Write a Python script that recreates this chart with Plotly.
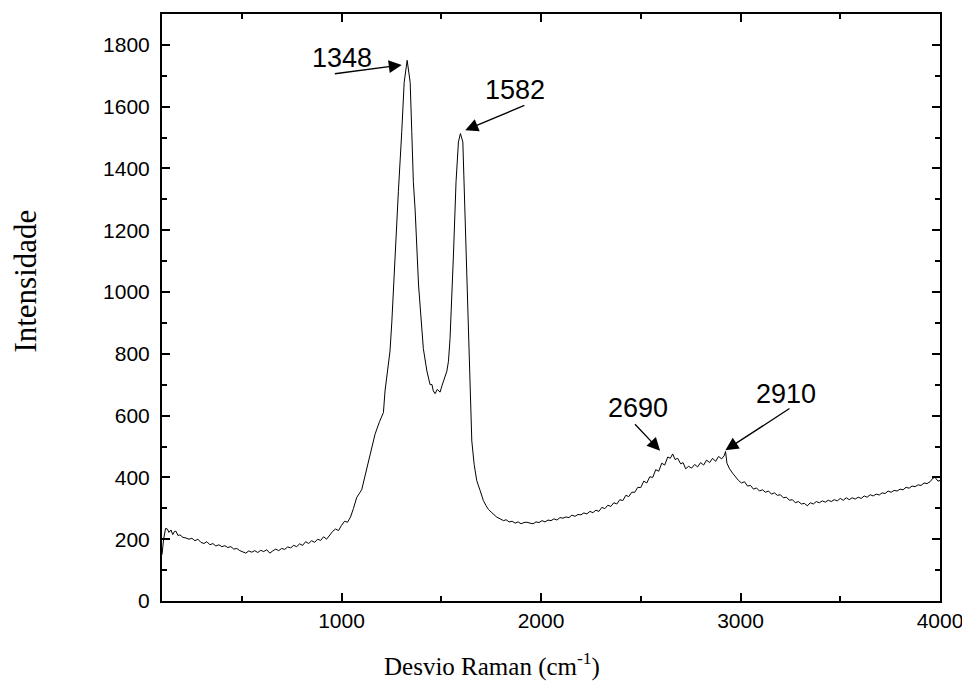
import plotly.graph_objects as go

# Raman spectrum
wavenumber = [100, 108, 118, 127, 135, 145, 154, 162, 170, 180, 190, 205, 220, 235, 250, 265, 280, 295, 310, 325,
              340, 355, 370, 385, 400, 415, 430, 445, 460, 475, 490, 505, 520, 535, 550, 565, 580, 595, 610, 625,
              640, 655, 670, 685, 700, 715, 730, 745, 760, 775, 790, 805, 820, 835, 850, 865, 880, 895, 910, 925,
              940, 955, 970, 985, 1000, 1015, 1030, 1045, 1060, 1076, 1101, 1118, 1143, 1168, 1190, 1210, 1218, 1230, 1243, 1252,
              1268, 1285, 1302, 1314, 1329, 1344, 1352, 1360, 1369, 1386, 1410, 1428, 1444, 1453, 1460, 1469, 1480, 1494, 1503, 1519,
              1528, 1536, 1544, 1561, 1574, 1586, 1596, 1608, 1614, 1628, 1644, 1653, 1665, 1678, 1695, 1711, 1725, 1737, 1750, 1765,
              1779, 1795, 1812, 1825, 1840, 1855, 1870, 1885, 1900, 1915, 1929, 1945, 1960, 1975, 1990, 2005, 2020, 2035, 2050, 2065,
              2080, 2095, 2110, 2125, 2140, 2155, 2170, 2185, 2200, 2215, 2230, 2245, 2260, 2275, 2290, 2305, 2320, 2335, 2350, 2365,
              2380, 2395, 2410, 2425, 2440, 2455, 2470, 2485, 2500, 2515, 2530, 2545, 2560, 2575, 2590, 2605, 2620, 2635, 2648, 2660,
              2672, 2685, 2700, 2712, 2725, 2740, 2755, 2770, 2785, 2800, 2815, 2830, 2845, 2860, 2875, 2890, 2905, 2918, 2925, 2932,
              2945, 2960, 2975, 2990, 3005, 3020, 3035, 3050, 3065, 3080, 3095, 3110, 3125, 3140, 3155, 3170, 3185, 3200, 3215, 3230,
              3245, 3260, 3275, 3290, 3305, 3320, 3335, 3350, 3365, 3380, 3395, 3410, 3425, 3440, 3455, 3470, 3485, 3500, 3515, 3530,
              3545, 3560, 3575, 3590, 3605, 3620, 3635, 3650, 3665, 3680, 3695, 3710, 3725, 3740, 3755, 3770, 3785, 3800, 3815, 3830,
              3845, 3860, 3875, 3890, 3905, 3920, 3935, 3950, 3965, 3975, 3990, 4000]
intensity = [150, 200, 235, 233, 222, 230, 215, 225, 226, 212, 214, 206, 204, 200, 203, 195, 200, 190, 186, 192,
             182, 186, 178, 182, 176, 179, 173, 176, 168, 170, 163, 160, 155, 162, 158, 163, 157, 164, 160, 166,
             155, 162, 168, 163, 170, 167, 175, 172, 180, 176, 185, 180, 192, 186, 195, 190, 200, 196, 208, 200,
             212, 225, 233, 228, 245, 258, 255, 272, 300, 335, 360, 405, 465, 540, 580, 610, 680, 744, 809, 902,
             1120, 1326, 1520, 1679, 1750, 1679, 1520, 1357, 1265, 1023, 817, 744, 700, 701, 680, 671, 685, 676, 696, 723,
             744, 776, 850, 1120, 1357, 1486, 1513, 1486, 1357, 1023, 659, 518, 441, 389, 357, 325, 308, 296, 288, 280,
             271, 266, 260, 263, 256, 258, 252, 256, 250, 254, 255, 252, 250, 256, 254, 260, 256, 262, 260, 266,
             262, 270, 268, 272, 270, 278, 274, 280, 279, 285, 282, 290, 286, 294, 290, 303, 299, 310, 306, 318,
             314, 328, 325, 342, 338, 352, 352, 368, 367, 388, 382, 402, 400, 425, 420, 446, 440, 466, 462, 476,
             458, 462, 444, 448, 428, 436, 430, 442, 434, 448, 440, 456, 448, 462, 452, 468, 460, 470, 484, 446,
             428, 414, 402, 390, 382, 386, 372, 374, 362, 366, 356, 360, 352, 356, 346, 350, 342, 344, 334, 336,
             326, 328, 318, 322, 314, 316, 308, 318, 314, 322, 318, 324, 320, 326, 322, 328, 324, 332, 326, 334,
             328, 334, 330, 336, 332, 340, 336, 344, 340, 346, 343, 350, 348, 356, 352, 358, 356, 362, 360, 368,
             365, 372, 370, 376, 374, 382, 380, 386, 398, 400, 388, 390]

x_ticks = [1000, 2000, 3000, 4000]
y_ticks = [0, 200, 400, 600, 800, 1000, 1200, 1400, 1600, 1800]

peak_labels = ["1348", "1582", "2690", "2910"]
label_pos_x = [1003, 1868, 2487, 3228]
label_pos_y = [1759, 1654, 625, 669]
arrow_tail_x = [959, 1924, 2464, 3253]
arrow_tail_y = [1706, 1606, 577, 626]
arrow_head_x = [1302, 1620, 2597, 2924]
arrow_head_y = [1735, 1524, 486, 488]

fig = go.Figure()
fig.add_trace(go.Scatter(x=wavenumber, y=intensity, mode="lines",
                         line=dict(color="black", width=1), showlegend=False))

axis_common = dict(showline=True, linewidth=2, linecolor="black", mirror="ticks",
                   ticks="inside", ticklen=8, tickwidth=2, tickcolor="black",
                   showgrid=False, zeroline=False,
                   tickfont=dict(family="Liberation Sans, Arial", size=21, color="black"))

fig.update_xaxes(range=[100, 4000], tickvals=x_ticks,
                 minor=dict(dtick=500, tick0=0, ticks="inside", ticklen=5, tickwidth=2, tickcolor="black"),
                 **axis_common)
fig.update_yaxes(range=[0, 1900], tickvals=y_ticks, ticklabelstandoff=6,
                 minor=dict(dtick=100, tick0=0, ticks="inside", ticklen=5, tickwidth=2, tickcolor="black"),
                 **axis_common)

# the page adds an 8px offset, so the margins compensate for it
W, H = 970, 691
L, R, T, B = 154, 38, 4, 98
pw, ph = W - L - R, H - T - B

annotations = []
for i in range(len(peak_labels)):
    annotations.append(dict(x=arrow_head_x[i], y=arrow_head_y[i], ax=arrow_tail_x[i], ay=arrow_tail_y[i],
                            xref="x", yref="y", axref="x", ayref="y", text="", showarrow=True,
                            arrowhead=2, arrowsize=2.0, arrowwidth=1.3, arrowcolor="black", standoff=0))
    annotations.append(dict(x=label_pos_x[i], y=label_pos_y[i], xref="x", yref="y", text=peak_labels[i],
                            showarrow=False, font=dict(family="Liberation Sans, Arial", size=27, color="black")))

annotations.append(dict(x=(484 - L) / pw, y=(H - B - 675) / ph, xref="paper", yref="paper",
                        text="Desvio Raman (cm<sup>-1</sup>)", showarrow=False,
                        font=dict(family="Liberation Serif, Times New Roman", size=25, color="black")))
annotations.append(dict(x=(-2 - L) / pw, y=(H - B - 272) / ph, xref="paper", yref="paper",
                        text="Intensidade", textangle=-90, showarrow=False,
                        font=dict(family="Liberation Serif, Times New Roman", size=31, color="black")))

fig.update_layout(width=W, height=H, margin=dict(l=L, r=R, t=T, b=B),
                  plot_bgcolor="white", paper_bgcolor="white",
                  annotations=annotations)

fig.write_html("out.html")
